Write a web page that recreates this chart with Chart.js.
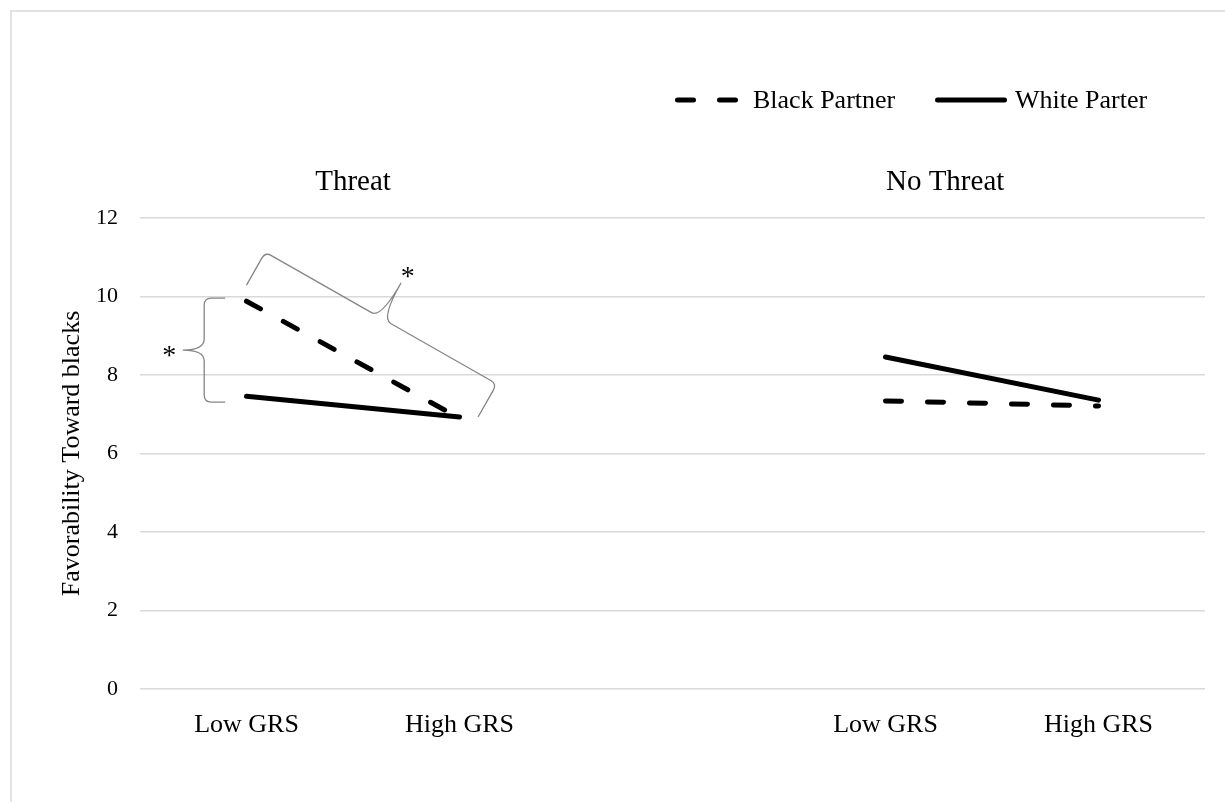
<!DOCTYPE html>
<html>
<head>
<meta charset="utf-8">
<script src="https://cdn.jsdelivr.net/npm/chart.js@4.4.1/dist/chart.umd.min.js"></script>
<style>
  html, body { margin: 0; padding: 0; background: #fff; }
  #wrap { position: relative; width: 1225px; height: 802px; }
</style>
</head>
<body>
<div id="wrap"><canvas id="myChart"></canvas></div>
<script>
const labels = ['Low GRS', 'High GRS', '', 'Low GRS', 'High GRS']
const black_partner = [9.88, 6.9, null, 7.34, 7.21]
const white_parter = [7.46, 6.93, null, 8.46, 7.36]
const y_ticks = [0, 2, 4, 6, 8, 10, 12]
const group_titles = ['Threat', 'No Threat']
const y_title = 'Favorability Toward blacks'

const FONT = '"Liberation Serif", "Times New Roman", serif'

// curly brace between two pixel points, bulging to one side
function drawBrace(ctx, p1, p2, s, t, side) {
    const dx = p2.x - p1.x, dy = p2.y - p1.y
    const len = Math.hypot(dx, dy)
    const ux = dx / len, uy = dy / len
    const nx = side * uy, ny = -side * ux
    const r = 7, r2 = 11
    const mx = (p1.x + p2.x) / 2, my = (p1.y + p2.y) / 2
    const P = (px, py, k, a) => [px + nx * k + ux * a, py + ny * k + uy * a]
    ctx.beginPath()
    ctx.moveTo(p1.x, p1.y)
    ctx.lineTo(...P(p1.x, p1.y, s - r, 0))
    ctx.quadraticCurveTo(...P(p1.x, p1.y, s, 0), ...P(p1.x, p1.y, s, r))
    ctx.lineTo(...P(mx, my, s, -r2))
    ctx.quadraticCurveTo(...P(mx, my, s, 0), ...P(mx, my, t, 0))
    ctx.quadraticCurveTo(...P(mx, my, s, 0), ...P(mx, my, s, r2))
    ctx.lineTo(...P(p2.x, p2.y, s, -r))
    ctx.quadraticCurveTo(...P(p2.x, p2.y, s, 0), ...P(p2.x, p2.y, s - r, 0))
    ctx.lineTo(p2.x, p2.y)
    ctx.stroke()
    // asterisk beyond the tip
    const tip = P(mx, my, t + 14, 0)
    ctx.fillText('*', tip[0], tip[1] + 14)
}

const extras = {
    id: 'extras',
    beforeDraw(chart) {
        const ctx = chart.ctx
        ctx.save()
        ctx.strokeStyle = '#d9d9d9'
        ctx.lineWidth = 1.5
        ctx.strokeRect(11, 11, 1400, 1000)
        ctx.restore()
    },
    afterDraw(chart) {
        const ctx = chart.ctx
        const xs = chart.scales.x, ys = chart.scales.y
        const px = (x, y) => ({x: xs.getPixelForValue(x), y: ys.getPixelForValue(y)})
        ctx.save()
        ctx.fillStyle = '#000'

        // group titles
        ctx.font = '29px ' + FONT
        ctx.textAlign = 'center'
        ctx.textBaseline = 'alphabetic'
        ctx.fillText(group_titles[0], xs.getPixelForValue(0.5), 190)
        ctx.fillText(group_titles[1], xs.getPixelForValue(3.28), 190)

        // legend
        const spots = [{x0: 677.5, x1: 737.5, tx: 753}, {x0: 937.5, x1: 1004.5, tx: 1015}]
        ctx.font = '26px ' + FONT
        ctx.textAlign = 'left'
        chart.data.datasets.forEach((ds, i) => {
            const sp = spots[i]
            ctx.save()
            ctx.strokeStyle = ds.borderColor
            ctx.lineWidth = ds.borderWidth
            ctx.lineCap = 'round'
            ctx.setLineDash(ds.borderDash || [])
            ctx.beginPath()
            ctx.moveTo(sp.x0, 100)
            ctx.lineTo(sp.x1, 100)
            ctx.stroke()
            ctx.restore()
            ctx.fillText(ds.label, sp.tx, 108)
        })

        // significance braces
        ctx.strokeStyle = '#858585'
        ctx.lineWidth = 1.3
        ctx.lineJoin = 'round'
        ctx.font = '28px ' + FONT
        ctx.textAlign = 'center'
        drawBrace(ctx, px(-0.1, 9.96), px(-0.1, 7.31), 21, 42, -1)
        drawBrace(ctx, px(0, 10.29), px(1.087, 6.93), 38, 78, 1)
        ctx.restore()
    }
}

const ctx = document.getElementById('myChart').getContext('2d')
const chart = new Chart(ctx, {
    type: 'line',
    data: {
        labels: labels,
        datasets: [{
            label: 'Black Partner',
            data: black_partner,
            borderColor: '#000',
            borderWidth: 5,
            borderDash: [16, 26],
            borderCapStyle: 'round',
            borderJoinStyle: 'round',
            pointRadius: 0,
            fill: false
        }, {
            label: 'White Parter',
            data: white_parter,
            borderColor: '#000',
            borderWidth: 5,
            borderCapStyle: 'round',
            borderJoinStyle: 'round',
            pointRadius: 0,
            fill: false
        }]
    },
    options: {
        responsive: true,
        maintainAspectRatio: false,
        animation: false,
        layout: {padding: {left: 0, top: 218, right: 20, bottom: 0}},
        plugins: {legend: {display: false}, tooltip: {enabled: false}},
        scales: {
            x: {
                offset: true,
                grid: {display: false},
                border: {display: false},
                ticks: {color: '#000', font: {family: FONT, size: 26}, padding: 13, maxRotation: 0, autoSkip: false},
                afterFit(s) { s.height = 113 }
            },
            y: {
                min: 0,
                max: 12,
                afterBuildTicks(s) { s.ticks = y_ticks.map(v => ({value: v})) },
                grid: {color: '#d9d9d9', lineWidth: 1.5, drawTicks: false},
                border: {display: false},
                ticks: {color: '#000', font: {family: FONT, size: 22}, padding: 22},
                title: {display: true, text: y_title, color: '#000', font: {family: FONT, size: 26}, padding: {top: 57, bottom: 0}},
                afterFit(s) { s.width = 140 }
            }
        }
    },
    plugins: [extras]
})
</script>
</body>
</html>
